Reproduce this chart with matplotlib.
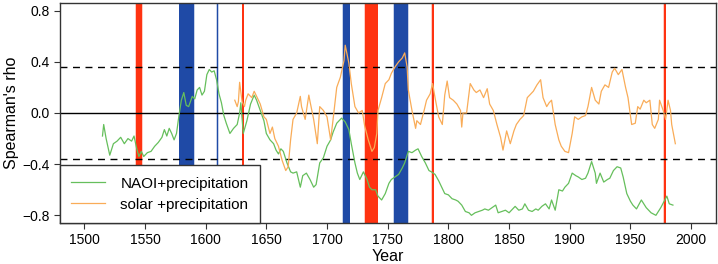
import matplotlib
matplotlib.use("Agg")
import matplotlib.pyplot as plt

plt.rcParams['font.family'] = ['Liberation Sans', 'DejaVu Sans']

# NAOI + precipitation (green)
naoi_years = [1515, 1516, 1518, 1521, 1524, 1527, 1530, 1533, 1536, 1539, 1541, 1543, 1545, 1547,
              1549, 1552, 1555, 1558, 1561, 1564, 1566, 1568, 1570, 1572, 1574, 1576, 1578, 1580,
              1582, 1584, 1586, 1589, 1591, 1593, 1595, 1597, 1599, 1601, 1603, 1605, 1607, 1609,
              1611, 1613, 1615, 1617, 1620, 1623, 1626, 1628, 1629, 1631, 1634, 1637, 1640, 1642,
              1645, 1648, 1650, 1653, 1656, 1658, 1660, 1662, 1664, 1667, 1670, 1672, 1675, 1678,
              1680, 1683, 1686, 1689, 1691, 1694, 1697, 1700, 1703, 1705, 1708, 1712, 1715, 1718,
              1720, 1723, 1725, 1727, 1730, 1733, 1735, 1737, 1740, 1742, 1745, 1748, 1751, 1753,
              1756, 1759, 1762, 1764, 1767, 1770, 1773, 1775, 1778, 1781, 1784, 1786, 1789, 1792,
              1795, 1797, 1800, 1803, 1806, 1808, 1811, 1814, 1817, 1819, 1822, 1825, 1828, 1830,
              1833, 1836, 1839, 1841, 1844, 1847, 1850, 1852, 1855, 1858, 1861, 1863, 1866, 1869,
              1872, 1874, 1877, 1880, 1883, 1885, 1888, 1891, 1894, 1896, 1899, 1902, 1905, 1907,
              1910, 1913, 1915, 1918, 1921, 1922, 1925, 1928, 1931, 1933, 1936, 1939, 1942, 1944,
              1947, 1950, 1952, 1955, 1959, 1963, 1967, 1971, 1975, 1980, 1982, 1985]
naoi_rho = [-0.18, -0.09, -0.20, -0.33, -0.24, -0.22, -0.19, -0.24, -0.20, -0.22, -0.18, -0.27, -0.34, -0.30,
            -0.34, -0.31, -0.30, -0.26, -0.23, -0.19, -0.13, -0.18, -0.12, -0.16, -0.21, -0.16, -0.02, 0.10,
            0.16, 0.06, 0.05, 0.13, 0.11, 0.18, 0.20, 0.14, 0.17, 0.30, 0.34, 0.32, 0.33, 0.26,
            0.15, 0.08, -0.02, -0.08, -0.16, -0.12, -0.09, 0.00, 0.08, -0.16, -0.06, 0.07, 0.14, 0.10,
            0.02, -0.06, -0.16, -0.21, -0.24, -0.29, -0.32, -0.28, -0.30, -0.39, -0.46, -0.47, -0.46, -0.58,
            -0.49, -0.47, -0.52, -0.58, -0.56, -0.39, -0.35, -0.26, -0.21, -0.15, -0.08, -0.04, -0.07, -0.13,
            -0.24, -0.39, -0.47, -0.52, -0.46, -0.52, -0.58, -0.60, -0.60, -0.65, -0.68, -0.63, -0.55, -0.52,
            -0.50, -0.48, -0.43, -0.39, -0.30, -0.31, -0.29, -0.28, -0.34, -0.39, -0.45, -0.46, -0.48, -0.53,
            -0.59, -0.63, -0.64, -0.67, -0.68, -0.69, -0.72, -0.77, -0.78, -0.80, -0.78, -0.77, -0.76, -0.75,
            -0.76, -0.74, -0.72, -0.78, -0.77, -0.76, -0.78, -0.76, -0.73, -0.76, -0.75, -0.71, -0.76, -0.77,
            -0.75, -0.76, -0.73, -0.71, -0.75, -0.68, -0.76, -0.60, -0.61, -0.58, -0.55, -0.47, -0.49, -0.50,
            -0.52, -0.51, -0.47, -0.38, -0.47, -0.55, -0.47, -0.54, -0.52, -0.51, -0.45, -0.42, -0.43, -0.50,
            -0.63, -0.69, -0.72, -0.75, -0.68, -0.74, -0.78, -0.80, -0.74, -0.65, -0.71, -0.72]

# solar + precipitation (orange)
solar_years = [1624, 1626, 1627, 1628, 1630, 1632, 1633, 1635, 1638, 1640, 1642, 1645, 1648, 1650,
               1653, 1655, 1657, 1660, 1663, 1666, 1668, 1670, 1672, 1675, 1678, 1679, 1682, 1685,
               1686, 1689, 1692, 1694, 1697, 1700, 1703, 1705, 1708, 1711, 1714, 1715, 1718, 1720,
               1723, 1726, 1729, 1731, 1734, 1737, 1739, 1741, 1742, 1745, 1748, 1751, 1753, 1756,
               1759, 1762, 1764, 1766, 1767, 1770, 1773, 1774, 1777, 1780, 1782, 1785, 1787, 1789,
               1792, 1795, 1797, 1799, 1801, 1804, 1807, 1810, 1811, 1812, 1815, 1818, 1821, 1823,
               1826, 1829, 1832, 1834, 1837, 1840, 1843, 1845, 1848, 1851, 1854, 1856, 1859, 1862,
               1865, 1867, 1870, 1873, 1876, 1878, 1881, 1883, 1885, 1888, 1891, 1893, 1896, 1899,
               1902, 1904, 1907, 1910, 1913, 1915, 1918, 1921, 1924, 1926, 1929, 1932, 1935, 1937,
               1940, 1943, 1946, 1948, 1951, 1954, 1956, 1958, 1961, 1963, 1966, 1968, 1970, 1973,
               1974, 1977, 1979, 1981, 1983, 1984, 1987]
solar_rho = [0.10, 0.05, 0.09, 0.24, 0.09, 0.05, 0.10, 0.15, 0.12, 0.17, 0.13, 0.07, -0.03, -0.05,
             -0.16, -0.11, -0.20, -0.26, -0.37, -0.45, -0.42, -0.21, -0.05, 0.00, 0.13, 0.05, -0.05, 0.14,
             0.09, -0.05, -0.24, 0.05, 0.02, -0.03, -0.21, -0.05, 0.20, 0.28, 0.41, 0.53, 0.39, 0.23,
             0.05, 0.00, 0.02, -0.10, -0.21, -0.30, -0.27, -0.16, 0.02, 0.12, 0.23, 0.26, 0.31, 0.36,
             0.40, 0.43, 0.47, 0.36, 0.18, 0.02, -0.12, -0.06, -0.09, 0.02, 0.10, 0.15, 0.23, 0.12,
             -0.03, -0.09, 0.14, 0.25, 0.12, 0.10, 0.07, 0.02, -0.11, 0.00, 0.00, 0.23, 0.18, 0.16,
             0.18, 0.12, 0.19, 0.07, 0.02, -0.09, -0.19, -0.29, -0.14, -0.24, -0.14, -0.09, -0.05, -0.02,
             0.12, 0.14, 0.17, 0.22, 0.26, 0.12, 0.05, 0.08, 0.10, -0.09, -0.21, -0.26, -0.30, -0.31,
             -0.16, -0.03, -0.05, -0.03, -0.02, 0.05, 0.20, 0.10, 0.07, 0.17, 0.22, 0.20, 0.32, 0.35,
             0.30, 0.34, 0.20, 0.12, -0.09, -0.08, 0.05, 0.03, 0.10, 0.08, 0.10, -0.09, -0.12, -0.05,
             0.10, 0.02, -0.05, 0.10, 0.02, -0.09, -0.24]

# highlighted periods (start, end)
red_periods = [(1542.8, 1547.7), (1630.2, 1631.2), (1731.2, 1741.6), (1786.6, 1787.8), (1977.6, 1979.0)]
blue_periods = [(1578.3, 1590.6), (1609.0, 1610.0), (1713.0, 1718.6), (1755.1, 1766.9)]

signif = 0.36

fig = plt.figure(figsize=(7.18, 2.64), dpi=100)
ax = fig.add_axes([60 / 718, 1 - 223 / 264, 656 / 718, 220 / 264])

for a, b in red_periods:
    ax.axvspan(a - 0.6, b + 0.6, color='#ff3311', alpha=0.25, lw=0, zorder=0)
    ax.axvspan(a, b, color='#ff3311', lw=0, zorder=0)
for a, b in blue_periods:
    ax.axvspan(a - 0.6, b + 0.6, color='#1f4aa6', alpha=0.25, lw=0, zorder=0)
    ax.axvspan(a, b, color='#1f4aa6', lw=0, zorder=0)

ax.axhline(0, color='black', lw=1, zorder=1)
ax.axhline(signif, color='black', lw=1, ls=(0, (5, 4)), zorder=1)
ax.axhline(-signif, color='black', lw=1, ls=(0, (5, 4)), zorder=1)

ax.plot(naoi_years, naoi_rho, color='#66bf5c', lw=0.9, label='NAOI+precipitation', zorder=2)
ax.plot(solar_years, solar_rho, color='#f9ac58', lw=0.9, label='solar +precipitation', zorder=2)

ax.set_xlim(1480, 2020.5)
ax.set_ylim(-0.86, 0.86)
ax.set_xticks(range(1500, 2001, 50))
ax.set_yticks([-0.8, -0.4, 0.0, 0.4, 0.8])
ax.set_yticklabels(['\u22120.8', '\u22120.4', '0.0', '0.4', '0.8'])
ax.tick_params(labelsize=10, length=4, color='#333333', direction='out')
for s in ax.spines.values():
    s.set_color('#333333')
    s.set_linewidth(1)

ax.set_ylabel("Spearman's rho", fontsize=11.5, labelpad=2)
ax.set_xlabel('Year', fontsize=11.5, labelpad=1)

leg = ax.legend(loc='lower left', bbox_to_anchor=(0, 0), borderaxespad=0, fancybox=False,
                framealpha=1, edgecolor='#333333', fontsize=11, handlelength=2.2,
                handletextpad=1.0, borderpad=0.75, labelspacing=0.45)
leg.get_frame().set_linewidth(1)

fig.savefig('out.png', dpi=100)
